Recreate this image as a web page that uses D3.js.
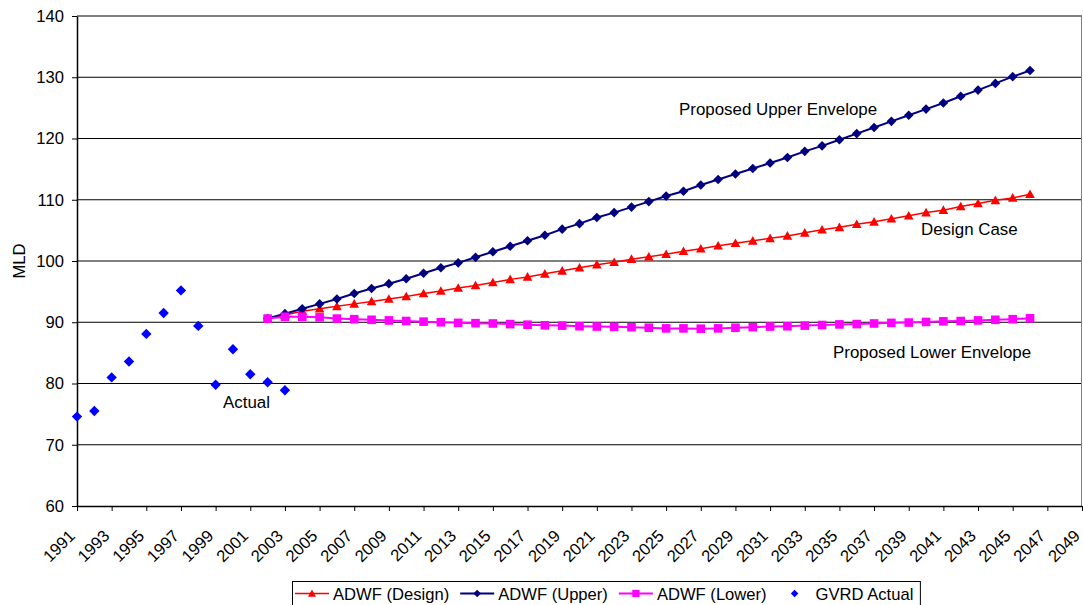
<!DOCTYPE html>
<html>
<head>
<meta charset="utf-8">
<script src="https://cdn.jsdelivr.net/npm/d3@7"></script>
<style>
  html, body { margin: 0; padding: 0; background: #fff; }
  svg { display: block; font-family: Arial, "Liberation Sans", sans-serif; }
</style>
</head>
<body>
<svg id="chart" width="1083" height="605"></svg>
<script>
// Historic flows (GVRD actual), 1991-2003
const actualYears = [1991, 1992, 1993, 1994, 1995, 1996, 1997, 1998, 1999, 2000, 2001, 2002, 2003];
const actualFlow = [74.6, 75.5, 81.0, 83.6, 88.1, 91.5, 95.2, 89.4, 79.8, 85.6, 81.5, 80.2, 78.9];

// Projected ADWF, 2002-2046
const projYears = d3.range(2002, 2047);
const designFlow = [90.6, 91.2, 91.8, 92.2, 92.6, 93.0, 93.4, 93.8, 94.2, 94.7,
  95.1, 95.6, 96.0, 96.5, 97.0, 97.4, 97.9, 98.4, 98.9, 99.4,
  99.8, 100.3, 100.7, 101.1, 101.6, 102.0, 102.5, 102.9, 103.3, 103.7,
  104.1, 104.6, 105.1, 105.5, 106.0, 106.4, 106.9, 107.4, 107.9, 108.3,
  108.9, 109.4, 109.9, 110.3, 110.9];
const upperFlow = [90.6, 91.4, 92.2, 93.0, 93.8, 94.7, 95.5, 96.3, 97.1, 98.0,
  98.9, 99.7, 100.6, 101.5, 102.4, 103.3, 104.2, 105.2, 106.1, 107.1,
  107.9, 108.8, 109.7, 110.6, 111.4, 112.4, 113.3, 114.2, 115.1, 116.0,
  116.9, 117.9, 118.8, 119.8, 120.8, 121.8, 122.8, 123.8, 124.8, 125.8,
  126.9, 127.9, 129.0, 130.1, 131.1];
const lowerFlow = [90.6, 90.9, 90.9, 90.8, 90.6, 90.5, 90.4, 90.3, 90.2, 90.1,
  90.0, 89.9, 89.85, 89.8, 89.7, 89.6, 89.5, 89.45, 89.35, 89.3,
  89.25, 89.2, 89.1, 89.0, 89.0, 88.95, 89.0, 89.1, 89.2, 89.3,
  89.35, 89.45, 89.55, 89.65, 89.7, 89.8, 89.9, 89.95, 90.05, 90.15,
  90.2, 90.3, 90.4, 90.5, 90.65];

// Axis ticks
const yTicks = [60, 70, 80, 90, 100, 110, 120, 130, 140];
const xTicks = d3.range(1991, 2050, 2);

const seriesNames = ["ADWF (Design)", "ADWF (Upper)", "ADWF (Lower)", "GVRD Actual"];
const noteLabels = ["Proposed Upper Envelope", "Design Case", "Proposed Lower Envelope", "Actual"];

const svg = d3.select("#chart");
const W = 1083, H = 605;
const plot = { left: 77, right: 1082, top: 16, bottom: 506 };
const FONT = "Arial, 'Liberation Sans', sans-serif";
const FS = 16.6;

const x = d3.scaleLinear().domain([1991, 2049]).range([plot.left, plot.right]);
const y = d3.scaleLinear().domain([60, 140]).range([plot.bottom, plot.top]);

svg.append("rect").attr("width", W).attr("height", H).attr("fill", "#fff");

// Horizontal gridlines
svg.append("g")
  .selectAll("line")
  .data(yTicks.filter(v => v > 60))
  .join("line")
  .attr("x1", plot.left).attr("x2", plot.right)
  .attr("y1", d => y(d)).attr("y2", d => y(d))
  .attr("stroke", "#000").attr("stroke-width", 1);

// Right border of the plot area
svg.append("line")
  .attr("x1", plot.right - 0.5).attr("x2", plot.right - 0.5)
  .attr("y1", plot.top).attr("y2", plot.bottom)
  .attr("stroke", "#808080").attr("stroke-width", 1);

// Y axis
const yAxis = svg.append("g")
  .attr("transform", `translate(${plot.left},0)`)
  .call(d3.axisLeft(y).tickValues(yTicks).tickSize(5).tickPadding(8).tickSizeOuter(0));
yAxis.select(".domain").attr("stroke", "#000").attr("stroke-width", 1.5);
yAxis.selectAll(".tick line").attr("stroke", "#000");
yAxis.selectAll("text").attr("font-size", FS).attr("fill", "#000").attr("font-family", FONT);

// X axis
const xAxis = svg.append("g")
  .attr("transform", `translate(0,${plot.bottom})`)
  .call(d3.axisBottom(x).tickValues(xTicks).tickFormat(d3.format("d")).tickSize(5).tickSizeOuter(0));
xAxis.select(".domain").attr("stroke", "#000").attr("stroke-width", 1.5);
xAxis.selectAll(".tick line").attr("stroke", "#000");
xAxis.selectAll("text")
  .attr("font-size", FS).attr("fill", "#000").attr("font-family", FONT)
  .attr("text-anchor", "end")
  .attr("y", 0).attr("dy", 0)
  .attr("transform", "translate(-1.5,31) rotate(-45)");

// Y axis title
svg.append("text")
  .attr("transform", `translate(25,${(plot.top + plot.bottom) / 2}) rotate(-90)`)
  .attr("text-anchor", "middle")
  .attr("font-size", FS)
  .text("MLD");

// Marker shapes
const diamond = r => `M0,${-r}L${r},0L0,${r}L${-r},0Z`;
const triangle = r => `M0,${-r}L${r},${r * 0.8}L${-r},${r * 0.8}Z`;
const square = r => `M${-r},${-r}H${r}V${r}H${-r}Z`;

const series = [
  { name: seriesNames[0], years: projYears, values: designFlow, color: "#ff0000", width: 1.5, shape: triangle, r: 4.8, lr: 4, line: true },
  { name: seriesNames[1], years: projYears, values: upperFlow, color: "#000080", width: 2, shape: diamond, r: 4.8, lr: 3.8, line: true },
  { name: seriesNames[2], years: projYears, values: lowerFlow, color: "#ff00ff", width: 2, shape: square, r: 4.3, lr: 3.6, line: true },
  { name: seriesNames[3], years: actualYears, values: actualFlow, color: "#0000ff", width: 0, shape: diamond, r: 5.2, lr: 3.8, line: false }
];

const lineGen = d3.line().x(d => x(d[0])).y(d => y(d[1]));

series.forEach(s => {
  const pts = s.years.map((yr, i) => [yr, s.values[i]]);
  const g = svg.append("g");
  if (s.line) {
    g.append("path")
      .attr("d", lineGen(pts))
      .attr("fill", "none")
      .attr("stroke", s.color)
      .attr("stroke-width", s.width);
  }
  g.selectAll("path.m")
    .data(pts)
    .join("path")
    .attr("class", "m")
    .attr("d", s.shape(s.r))
    .attr("transform", d => `translate(${x(d[0])},${y(d[1])})`)
    .attr("fill", s.color);
});

// Annotations
const notes = [
  { text: noteLabels[0], x: 679, y: 115 },
  { text: noteLabels[1], x: 921, y: 235 },
  { text: noteLabels[2], x: 833, y: 358 },
  { text: noteLabels[3], x: 223, y: 408 }
];
svg.append("g").selectAll("text")
  .data(notes)
  .join("text")
  .attr("x", d => d.x).attr("y", d => d.y)
  .attr("font-size", 16.9).attr("fill", "#000")
  .text(d => d.text);

// Legend
const legend = svg.append("g");
const legBox = legend.append("rect")
  .attr("x", 292.5).attr("y", 581.5).attr("height", 30)
  .attr("fill", "#fff").attr("stroke", "#000").attr("stroke-width", 1);
let cx = 295;
const ly = 593.5;
series.forEach(s => {
  const item = legend.append("g");
  if (s.line) {
    item.append("line")
      .attr("x1", cx).attr("x2", cx + 34).attr("y1", ly).attr("y2", ly)
      .attr("stroke", s.color).attr("stroke-width", s.width);
  }
  item.append("path")
    .attr("d", s.shape(s.lr))
    .attr("transform", `translate(${cx + 17},${ly})`)
    .attr("fill", s.color);
  const t = item.append("text")
    .attr("x", cx + 38).attr("y", 599.5)
    .attr("font-size", FS).attr("fill", "#000")
    .text(s.name);
  cx = cx + 38 + t.node().getComputedTextLength() + 11;
});
legBox.attr("width", cx - 292.5 - 4);
</script>
</body>
</html>
